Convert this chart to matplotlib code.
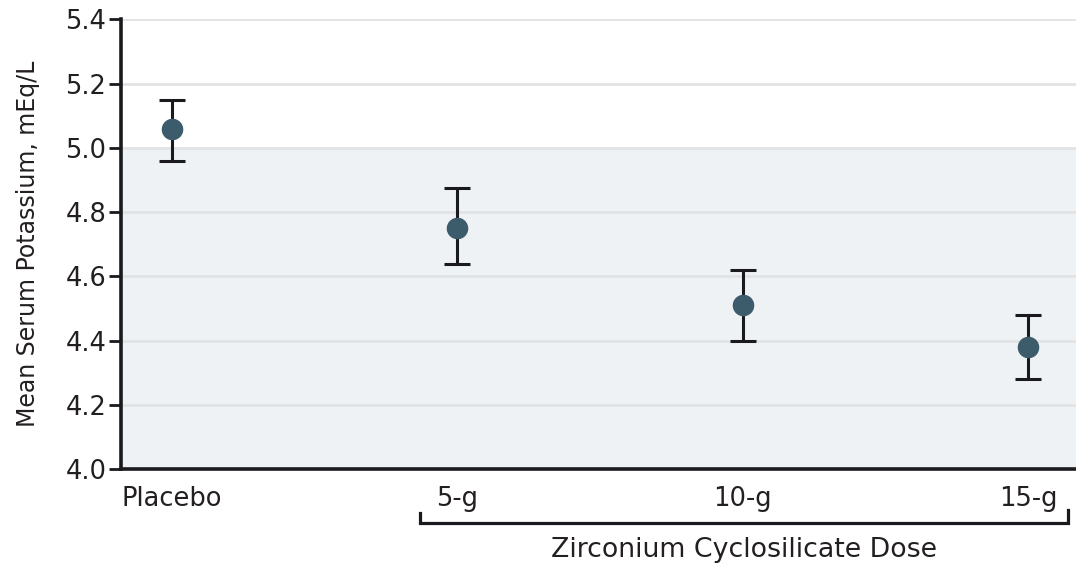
import matplotlib
matplotlib.use("Agg")
import matplotlib.pyplot as plt
import matplotlib.transforms as mtransforms

groups = ['Placebo', '5-g', '10-g', '15-g']
mean_k = [5.06, 4.75, 4.51, 4.38]
ci_low = [4.96, 4.64, 4.40, 4.28]
ci_high = [5.15, 4.875, 4.62, 4.48]
yticks = [4.0, 4.2, 4.4, 4.6, 4.8, 5.0, 5.2, 5.4]

plt.rcParams['font.family'] = ['DejaVu Sans']
txt = '#231f20'

fig = plt.figure(figsize=(10.76, 5.65), dpi=100)
ax = fig.add_axes([0.1125, 0.1694, 0.8875, 0.7964])

x = list(range(len(groups)))
err = [[m - lo for m, lo in zip(mean_k, ci_low)],
       [hi - m for m, hi in zip(mean_k, ci_high)]]

# shaded normal range + grid
ax.axhspan(4.0, 5.0, color='#eff2f5', zorder=0)
for yv in yticks[1:]:
    ax.axhline(yv, color='#e1e3e5', lw=2, zorder=1)

ax.errorbar(x, mean_k, yerr=err, fmt='none', ecolor='#1a1a1e',
            elinewidth=2.2, capsize=9.7, capthick=2.2, zorder=3)
ax.plot(x, mean_k, 'o', color='#3d5c6b', markersize=14.5, zorder=4)

ax.set_xlim(-0.178, 3.168)
ax.set_ylim(4.0, 5.4)
ax.set_yticks(yticks)
ax.set_yticklabels(['%.1f' % v for v in yticks])
ax.set_xticks(x)
ax.set_xticklabels(groups)

for s in ['top', 'right']:
    ax.spines[s].set_visible(False)
for s in ['left', 'bottom']:
    ax.spines[s].set_linewidth(2.6)
    ax.spines[s].set_color('#1a1a1e')

ax.tick_params(axis='y', length=8.6, width=2, color='#1a1a1e', pad=2,
               labelsize=18.5, labelcolor=txt)
ax.tick_params(axis='x', length=0, pad=12, labelsize=18.5, labelcolor=txt)
ax.set_ylabel('Mean Serum Potassium, mEq/L', fontsize=17, color=txt,
              labelpad=18)

# bracket under the dose groups
trans = mtransforms.blended_transform_factory(ax.transData, ax.transAxes)
bx0, bx1 = 0.87, 3.14
ax.plot([bx0, bx0, bx1, bx1], [-0.097, -0.12, -0.12, -0.09],
        color='#1a1a1e', lw=2.3, transform=trans, clip_on=False,
        solid_joinstyle='miter')
ax.text((bx0 + bx1) / 2, -0.18, 'Zirconium Cyclosilicate Dose',
        transform=trans, ha='center', va='center', fontsize=19.3, color=txt)

fig.savefig('out.png', dpi=100)
